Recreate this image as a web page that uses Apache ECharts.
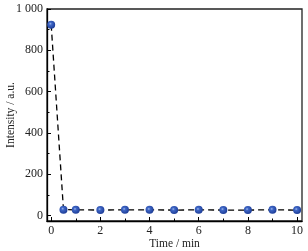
<!DOCTYPE html>
<html><head><meta charset="utf-8">
<script src="https://cdn.jsdelivr.net/npm/echarts@6/dist/echarts.min.js"></script>
<style>html,body{margin:0;padding:0;background:#fff}#c{width:308px;height:251px}</style>
</head><body><div id="c"></div>
<script>
const timeMin = [0, 0.5, 1, 2, 3, 4, 5, 6, 7, 8, 9, 10];
const intensity = [924, 28, 27, 26, 27, 27, 26, 27, 26, 26, 27, 26];
const xMajor = [0, 2, 4, 6, 8, 10];
const xMinor = [1, 3, 5, 7, 9];
const yMajor = [0, 200, 400, 600, 800, 1000];
const yMinor = [100, 300, 500, 700, 900];
const yLabels = ['0', '200', '400', '600', '800', '1 000'];

const font = 'Liberation Serif';
const chart = echarts.init(document.getElementById('c'), null, {renderer: 'canvas'});
const X0 = -0.17, X1 = 10.2, Y0 = -27, Y1 = 1000;
const baseX = {type: 'value', min: X0, max: X1, splitLine: {show: false}};
const baseY = {type: 'value', min: Y0, max: Y1, splitLine: {show: false}};
chart.setOption({
  animation: false,
  grid: {left: 47, top: 9, right: 6, bottom: 30, show: true, borderColor: '#222', borderWidth: 1.3,
    containLabel: false, outerBoundsMode: 'none'},
  xAxis: [
    Object.assign({}, baseX, {
      name: 'Time / min', nameLocation: 'middle', nameGap: 17, nameMoveOverlap: false,
      nameTextStyle: {fontFamily: font, fontSize: 11.5, color: '#222'},
      axisLine: {show: true, onZero: false, lineStyle: {color: '#000', width: 1.3}},
      axisTick: {show: true, inside: true, length: 4, customValues: xMajor, lineStyle: {color: '#000'}},
      axisLabel: {customValues: xMajor, fontFamily: font, fontSize: 12, color: '#222', margin: 4}
    }),
    Object.assign({}, baseX, {
      position: 'bottom',
      axisLine: {show: false, onZero: false},
      axisTick: {show: true, inside: true, length: 2.5, customValues: xMinor, lineStyle: {color: '#000'}},
      axisLabel: {show: false}
    })
  ],
  yAxis: [
    Object.assign({}, baseY, {
      name: 'Intensity / a.u.', nameLocation: 'middle', nameGap: 30, nameMoveOverlap: false,
      nameTextStyle: {fontFamily: font, fontSize: 11.5, color: '#222'},
      axisLine: {show: true, onZero: false, lineStyle: {color: '#000', width: 1.3}},
      axisTick: {show: true, inside: true, length: 4, customValues: yMajor, lineStyle: {color: '#000'}},
      axisLabel: {customValues: yMajor, fontFamily: font, fontSize: 12, color: '#222', margin: 4,
        formatter: v => yLabels[yMajor.indexOf(v)]}
    }),
    Object.assign({}, baseY, {
      position: 'left',
      axisLine: {show: false, onZero: false},
      axisTick: {show: true, inside: true, length: 2.5, customValues: yMinor, lineStyle: {color: '#000'}},
      axisLabel: {show: false}
    })
  ],
  series: [{
    type: 'line',
    data: timeMin.map((t, i) => [t, intensity[i]]),
    lineStyle: {color: '#000', width: 1.3, type: [6, 4]},
    symbol: 'circle', symbolSize: 8,
    itemStyle: {
      color: new echarts.graphic.RadialGradient(0.4, 0.38, 0.6, [
        {offset: 0, color: '#9fb8ee'},
        {offset: 0.3, color: '#3f67c6'},
        {offset: 1, color: '#1f3f9a'}
      ]),
      borderWidth: 0
    },
    z: 5
  }]
});
</script></body></html>
